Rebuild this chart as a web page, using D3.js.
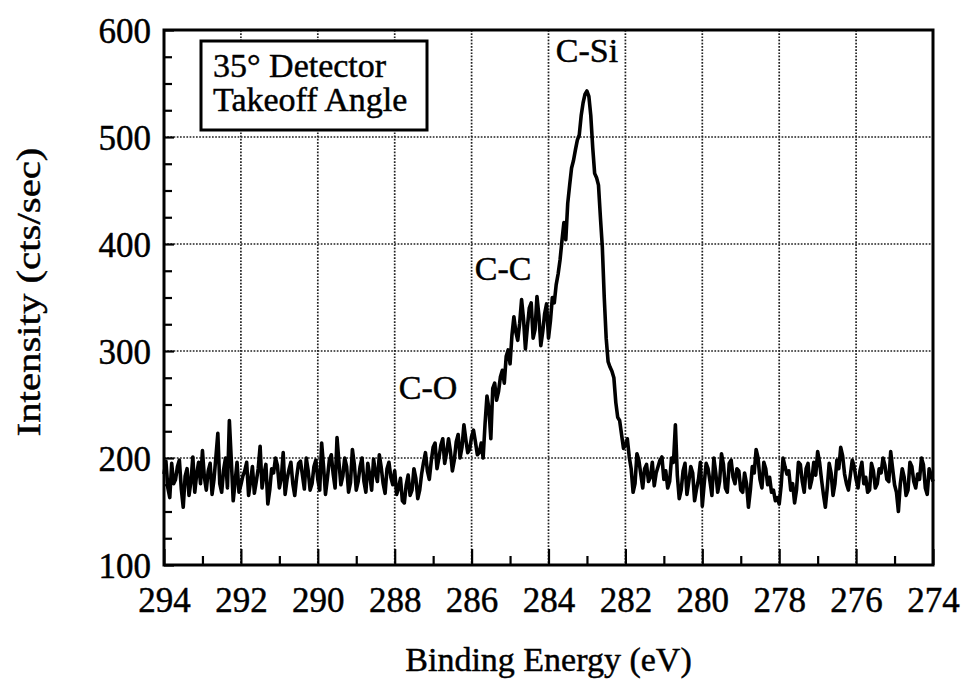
<!DOCTYPE html>
<html><head><meta charset="utf-8">
<script src="https://cdn.jsdelivr.net/npm/d3@7"></script>
<style>
body{margin:0;background:#fff}
svg text{font-family:"Liberation Serif","Times New Roman",Times,serif;fill:#000;stroke:#000;stroke-width:0.45px}
</style>
</head><body>
<svg id="chart" width="961" height="679"></svg>
<script>
// XPS C 1s spectrum, sampled every 0.05 eV from 294.00 eV down to 274.00 eV
const energyStart = 294.0;
const energyStep = 0.05;
const intensity = [
  // 294.00 - 292.00
  185,197,172,163,195,176,180,192,198,171,154,183,190,165,178,201,168,185,196,176,
  207,182,170,188,195,166,180,201,223,176,168,189,200,172,235,198,160,178,196,168,175,
  // 291.95 - 290.00
  183,188,196,165,178,192,167,178,190,211,172,185,194,157,170,190,186,200,193,172,
  181,205,166,180,189,196,176,165,182,195,197,184,171,200,188,170,176,192,198,180,
  // 289.95 - 288.00
  170,214,192,166,181,198,203,185,172,219,196,175,183,200,192,168,177,208,194,170,
  178,192,200,178,168,195,184,170,199,186,178,203,191,176,167,190,196,182,175,188,
  // 287.95 - 286.00
  166,172,181,160,158,175,184,165,170,190,181,162,170,185,196,205,188,180,197,210,
  214,190,200,212,218,195,205,218,206,188,198,215,222,200,210,231,217,205,208,220,
  // 285.95 - 281.90
  226,215,203,205,214,200,232,258,246,218,265,270,254,262,276,282,270,295,301,288,
  315,332,318,310,326,348,330,302,322,340,345,312,320,351,333,305,318,335,344,312,
  328,350,345,362,372,385,403,420,404,438,455,471,478,488,497,502,520,532,540,543,
  538,520,490,466,462,455,425,397,350,312,290,285,281,275,252,238,235,222,209,212,
  218,201,
  // 281.85 - 280.00
  190,168,176,204,198,185,172,190,194,178,182,196,174,186,192,198,201,180,188,172,
  178,200,196,231,184,162,170,188,195,166,178,192,186,160,171,180,196,155,
  // 279.95 - 278.00
  176,195,190,178,165,200,186,168,178,204,194,172,168,195,198,182,176,190,188,170,
  168,186,176,154,170,192,186,208,200,180,172,196,190,175,182,168,170,160,163,157,
  // 277.95 - 276.00
  174,200,192,185,188,170,176,158,170,196,194,178,168,190,195,172,180,196,184,206,
  196,180,166,154,172,195,186,165,176,198,190,210,202,185,176,170,184,198,192,180,
  // 275.95 - 274.00
  172,188,196,176,182,168,170,195,188,172,176,190,186,200,193,180,178,206,190,175,
  168,150,176,190,182,165,170,196,192,178,172,185,180,200,194,172,166,190,184,178
];
const xMajorTicks = [294,292,290,288,286,284,282,280,278,276,274];
const xMinorTicks = [293,291,289,287,285,283,281,279,277,275];
const yMajorTicks = [100,200,300,400,500,600];
const yMinorTicks = [125,150,175,225,250,275,325,350,375,425,450,475,525,550,575];
const peakLabels = ["C-Si","C-C","C-O"];
const peakLabelEnergy = [283.0, 285.18, 287.13];
const peakLabelIntensity = [570, 366, 255];
const legendLines = ["35\u00B0 Detector","Takeoff Angle"];
const xTitle = "Binding Energy (eV)";
const yTitle = "Intensity (cts/sec)";

const m = {left:164, right:933, top:30, bottom:565};
const svg = d3.select("#chart");
const x = d3.scaleLinear().domain([294,274]).range([m.left,m.right]);
const y = d3.scaleLinear().domain([100,600]).range([m.bottom,m.top]);
const data = intensity.map((v,i)=>({e: energyStart - i*energyStep, v}));

// grid
const grid = svg.append("g").attr("stroke","#222").attr("stroke-width",1.7)
  .attr("stroke-dasharray","1.7,1.5").attr("fill","none");
grid.selectAll("line.v").data(xMajorTicks.slice(1,-1)).join("line")
  .attr("x1",d=>x(d)).attr("x2",d=>x(d)).attr("y1",m.top).attr("y2",m.bottom);
grid.selectAll("line.h").data(yMajorTicks.slice(1,-1)).join("line")
  .attr("y1",d=>y(d)).attr("y2",d=>y(d)).attr("x1",m.left).attr("x2",m.right);

// axes
const gx = svg.append("g").attr("transform",`translate(0,${m.bottom})`)
  .call(d3.axisBottom(x).tickValues(xMajorTicks).tickSizeInner(-16).tickSizeOuter(0).tickFormat(d3.format("d")));
svg.append("g").attr("transform",`translate(0,${m.bottom})`)
  .call(d3.axisBottom(x).tickValues(xMinorTicks).tickSizeInner(-9).tickSizeOuter(0).tickFormat(""));
const gy = svg.append("g").attr("transform",`translate(${m.left},0)`)
  .call(d3.axisLeft(y).tickValues(yMajorTicks).tickSizeInner(-10).tickSizeOuter(0).tickFormat(d3.format("d")));
svg.append("g").attr("transform",`translate(${m.left},0)`)
  .call(d3.axisLeft(y).tickValues(yMinorTicks).tickSizeInner(-8).tickSizeOuter(0).tickFormat(""));
svg.selectAll(".domain").remove();
svg.selectAll(".tick line").attr("stroke","#000").attr("stroke-width",2.2);
gx.selectAll(".tick text").attr("y",null).attr("dy",null)
  .attr("transform","translate(0,47)").style("font-size","35px").attr("text-anchor","middle");
gy.selectAll(".tick text").attr("x",null).attr("dy",null)
  .attr("transform","translate(-13,12)").style("font-size","35px").attr("text-anchor","end");
svg.selectAll(".tick text").attr("font-family",null).attr("fill","#000");

// data line
svg.append("path").datum(data)
  .attr("fill","none").attr("stroke","#000").attr("stroke-width",3.6).attr("stroke-linejoin","round")
  .attr("d",d3.line().x(d=>x(d.e)).y(d=>y(d.v)));

// frame
svg.append("rect").attr("x",m.left).attr("y",m.top).attr("width",m.right-m.left).attr("height",m.bottom-m.top)
  .attr("fill","none").attr("stroke","#000").attr("stroke-width",3);

// peak labels
svg.selectAll("text.peak").data(peakLabels).join("text").attr("class","peak")
  .attr("x",(d,i)=>x(peakLabelEnergy[i])).attr("y",(d,i)=>y(peakLabelIntensity[i]))
  .attr("text-anchor","middle").style("font-size","34px").text(d=>d);

// legend box
const lg = svg.append("g").attr("transform","translate(201,41)");
lg.append("rect").attr("width",226).attr("height",89).attr("fill","#fff").attr("stroke","#000").attr("stroke-width",3);
lg.selectAll("text").data(legendLines).join("text")
  .attr("x",12).attr("y",(d,i)=>36+i*34).style("font-size","34px").text(d=>d);

// axis titles
svg.append("text").attr("x",(m.left+m.right)/2).attr("y",671).attr("text-anchor","middle")
  .style("font-size","34px").text(xTitle);
svg.append("text").attr("transform",`translate(40,292) scale(1,1.2) rotate(-90)`)
  .attr("text-anchor","middle").style("font-size","34px").text(yTitle);
</script>
</body></html>
